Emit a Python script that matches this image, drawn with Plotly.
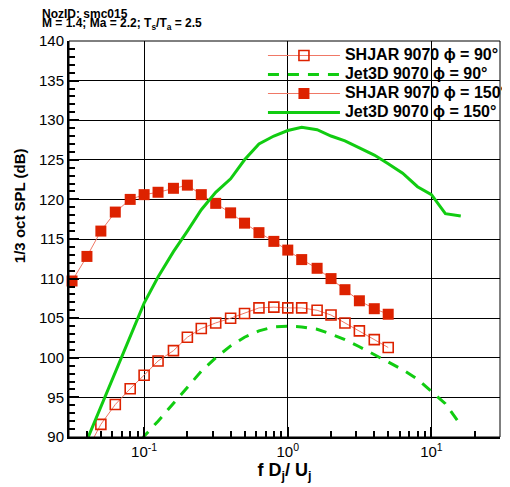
import plotly.graph_objects as go
import numpy as np

# third-octave frequencies (f Dj / Uj)
f_shjar150 = [0.0315, 0.04, 0.05, 0.063, 0.08, 0.1, 0.125, 0.16, 0.2, 0.25, 0.315, 0.4,
              0.5, 0.63, 0.8, 1.0, 1.25, 1.6, 2.0, 2.5, 3.15, 4.0, 5.0]
spl_shjar150 = [109.7, 112.8, 116.0, 118.4, 120.0, 120.6, 120.9, 121.4, 121.8, 120.6, 119.5, 118.3,
                117.0, 115.8, 114.7, 113.6, 112.4, 111.3, 110.0, 108.6, 107.2, 106.2, 105.5]

f_shjar90 = [0.04, 0.05, 0.063, 0.08, 0.1, 0.125, 0.16, 0.2, 0.25, 0.315, 0.4,
             0.5, 0.63, 0.8, 1.0, 1.25, 1.6, 2.0, 2.5, 3.15, 4.0, 5.0]
spl_shjar90 = [88.3, 91.6, 94.1, 96.1, 97.8, 99.6, 100.9, 102.6, 103.7, 104.4, 105.0,
               105.6, 106.3, 106.4, 106.3, 106.3, 106.0, 105.4, 104.4, 103.4, 102.3, 101.3]

f_jet150 = [0.04, 0.05, 0.063, 0.08, 0.1, 0.125, 0.16, 0.2, 0.25, 0.315, 0.4, 0.5, 0.63,
            0.8, 1.0, 1.25, 1.6, 2.0, 2.5, 3.15, 4.0, 5.0, 6.3, 8.0, 10.0, 12.5, 16.0]
spl_jet150 = [89.6, 93.8, 98.3, 102.7, 106.9, 110.2, 113.4, 116.0, 118.7, 120.9, 122.6, 125.0, 127.0,
              128.0, 128.7, 129.1, 128.8, 128.0, 127.4, 126.5, 125.6, 124.5, 123.3, 121.6, 120.6, 118.2, 117.9]

f_jet90 = [0.08, 0.1, 0.125, 0.16, 0.2, 0.25, 0.315, 0.4, 0.5, 0.63, 0.8, 1.0,
           1.25, 1.6, 2.0, 2.5, 3.15, 4.0, 5.0, 6.3, 8.0, 10.0, 12.5, 16.0]
spl_jet90 = [87.5, 90.1, 92.0, 94.2, 96.3, 98.3, 100.0, 101.5, 102.6, 103.4, 103.9, 104.0,
             103.9, 103.6, 103.0, 102.3, 101.4, 100.4, 99.5, 98.5, 97.3, 95.7, 94.2, 91.5]

x_tickvals = [0.1, 1, 10]
x_ticktext = ["10<sup>-1</sup>", "10<sup>0</sup>", "10<sup>1</sup>"]
y_tickvals = [90, 95, 100, 105, 110, 115, 120, 125, 130, 135, 140]

RED = "#dd2200"
SALMON = "#f07866"
GREEN = "#11cc11"
FONT = "Liberation Sans, Arial, sans-serif"


def leg(s):
    return '<span style="font-size:16px">' + s + '</span>'


fig = go.Figure()
fig.add_trace(go.Scatter(
    x=f_shjar90, y=spl_shjar90, mode="lines+markers", name=leg("SHJAR 9070 ϕ = 90°"),
    line=dict(color=SALMON, width=1),
    marker=dict(symbol="square-open", size=10, color=RED, line=dict(color=RED, width=1.6))))
fig.add_trace(go.Scatter(
    x=f_jet90, y=spl_jet90, mode="lines", name=leg("Jet3D 9070 ϕ = 90°"),
    line=dict(color=GREEN, width=3, dash="11px,9px")))
fig.add_trace(go.Scatter(
    x=f_shjar150, y=spl_shjar150, mode="lines+markers", name=leg("SHJAR 9070 ϕ = 150°"),
    line=dict(color=SALMON, width=1), cliponaxis=False,
    marker=dict(symbol="square", size=11, color=RED, line=dict(width=0))))
fig.add_trace(go.Scatter(
    x=f_jet150, y=spl_jet150, mode="lines", name=leg("Jet3D 9070 ϕ = 150°"),
    line=dict(color=GREEN, width=3)))

fig.update_layout(
    width=510, height=487,
    margin=dict(l=61, r=18, t=33, b=58, autoexpand=False),
    paper_bgcolor="white", plot_bgcolor="white",
    font=dict(family=FONT, color="black", size=15),
    showlegend=True,
    legend=dict(x=0.45, y=1.0, xanchor="left", yanchor="top",
                bgcolor="rgba(0,0,0,0)", borderwidth=0, itemwidth=72,
                font=dict(size=12, weight="bold", family=FONT),
                tracegroupgap=0),
    xaxis=dict(type="log", range=[np.log10(0.03), np.log10(30)],
               tickvals=x_tickvals, ticktext=x_ticktext, automargin=False,
               showgrid=True, gridcolor="black", gridwidth=1,
               showline=True, linecolor="black", linewidth=2, mirror=False,
               ticks="inside", ticklen=10, tickwidth=2, tickcolor="black",
               minor=dict(ticks="inside", ticklen=6, tickwidth=1.5, tickcolor="black",
                          dtick="D1", showgrid=False),
               tickfont=dict(size=15),
               title=dict(text="f D<sub>j</sub>/ U<sub>j</sub>", standoff=2,
                          font=dict(size=18, weight="bold")),
               zeroline=False),
    yaxis=dict(range=[90, 140], tickvals=y_tickvals, automargin=False,
               showgrid=True, gridcolor="black", gridwidth=1,
               showline=True, linecolor="black", linewidth=2, mirror=False,
               ticks="inside", ticklen=10, tickwidth=2, tickcolor="black",
               minor=dict(ticks="inside", ticklen=6, tickwidth=1.5, tickcolor="black",
                          dtick=1, showgrid=False),
               tickfont=dict(size=15),
               zeroline=False),
    shapes=[dict(type="rect", xref="paper", yref="paper", x0=0, x1=1, y0=0, y1=1,
                 line=dict(color="black", width=1), layer="above")],
    annotations=[
        dict(text="NozID: smc015", xref="paper", yref="paper", x=-0.067, y=1.069,
             xanchor="left", yanchor="middle", showarrow=False,
             font=dict(size=12, weight="bold")),
        dict(text="M = 1.4; Ma = 2.2; T<sub>s</sub>/T<sub>a</sub> = 2.5", xref="paper", yref="paper",
             x=-0.067, y=1.042, xanchor="left", yanchor="middle", showarrow=False,
             font=dict(size=12, weight="bold")),
        dict(text="1/3 oct SPL (dB)", xref="paper", yref="paper", x=-0.116, y=0.583,
             xanchor="center", yanchor="middle", textangle=-90, showarrow=False,
             font=dict(size=15, weight="bold")),
    ],
)

fig.write_html("out.html")
